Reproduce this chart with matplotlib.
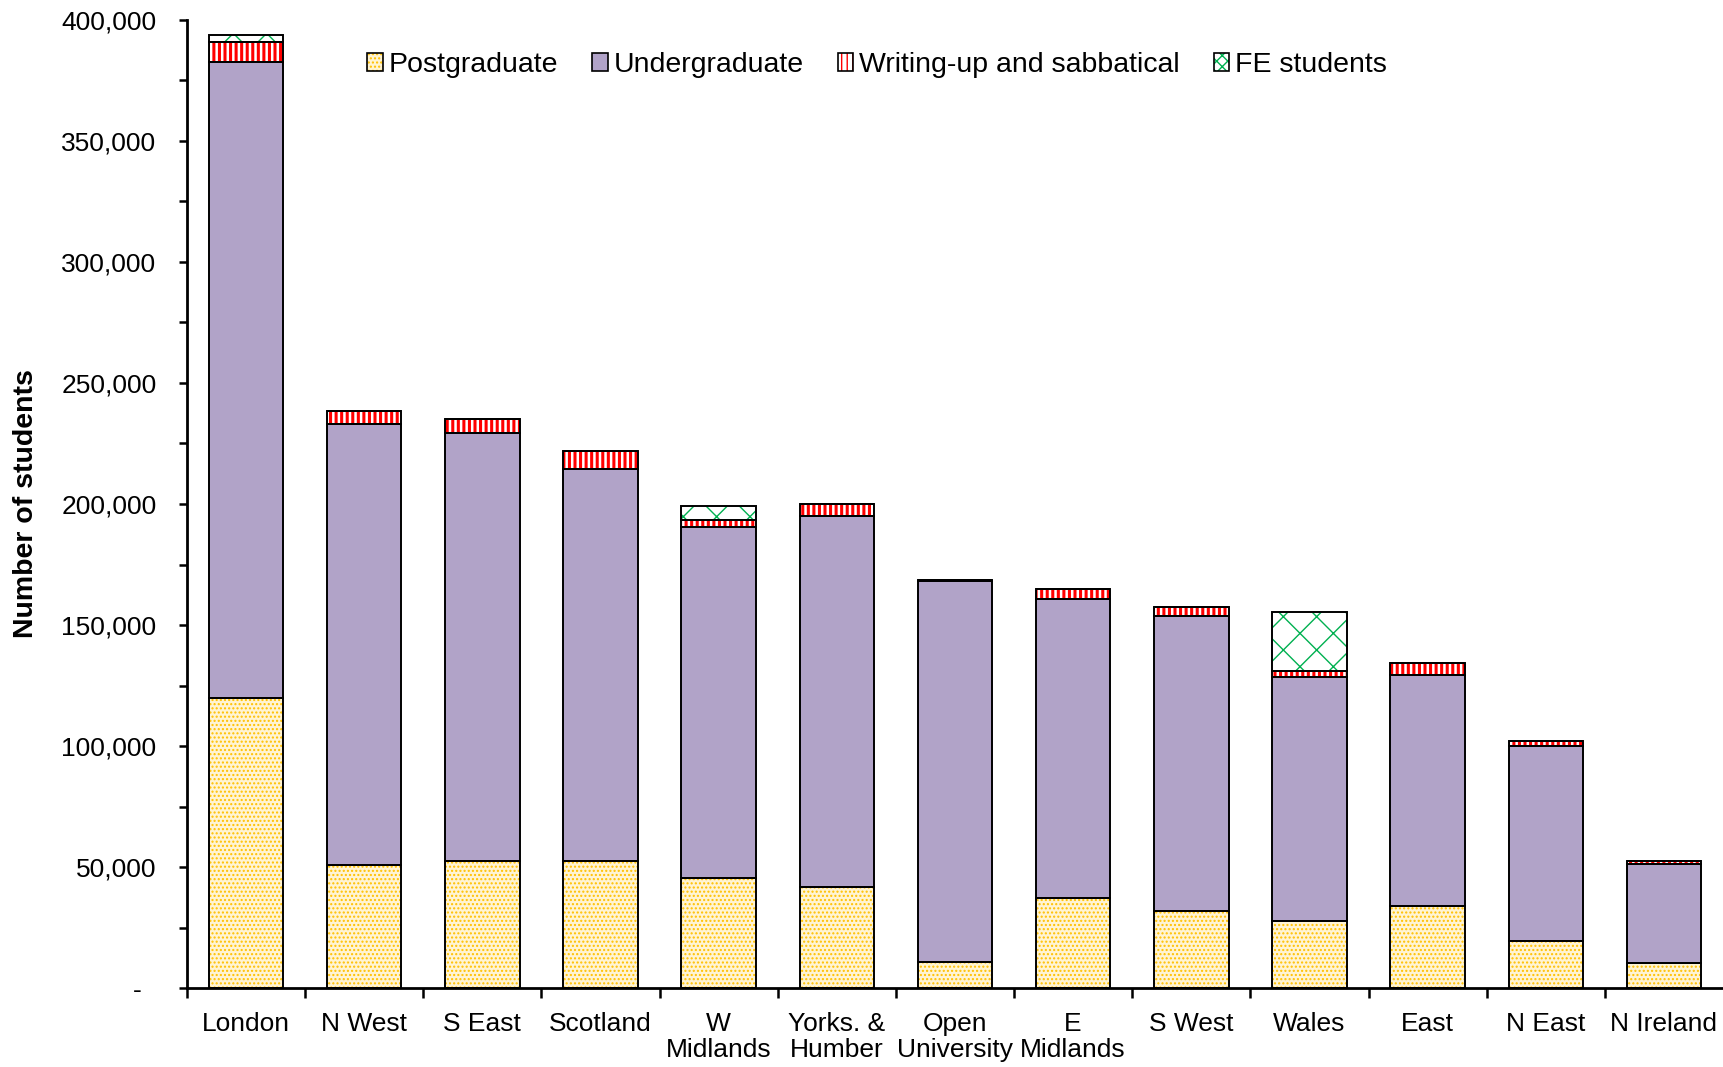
import matplotlib
matplotlib.use("Agg")
import matplotlib.pyplot as plt
from matplotlib.patches import Patch
from matplotlib.ticker import FixedLocator, MultipleLocator, FuncFormatter
import numpy as np

plt.rcParams['font.family'] = ['Liberation Sans', 'DejaVu Sans']

regions = ["London", "N West", "S East", "Scotland", "W\nMidlands", "Yorks. &\nHumber",
           "Open\nUniversity", "E\nMidlands", "S West", "Wales", "East", "N East", "N Ireland"]
postgraduate = [119700, 50900, 52600, 52600, 45300, 41700, 10900, 37200, 31700, 27700, 34000, 19500, 10200]
undergraduate = [262800, 182000, 176900, 161900, 145200, 153500, 157100, 123400, 122100, 100700, 95200, 80500, 41000]
writing_up = [8400, 5500, 5500, 7400, 2900, 4700, 600, 4100, 3800, 2600, 5200, 2200, 1300]
fe_students = [2900, 0, 0, 0, 5900, 0, 0, 0, 0, 24500, 0, 0, 0]

series = [
    ("Postgraduate", postgraduate, dict(face="#FFF4D4", hatch="....", lhatch="....", hcol="#FFC000", hlw=1.0)),
    ("Undergraduate", undergraduate, dict(face="#B1A3C8", hatch=None, lhatch=None, hcol="#B1A3C8", hlw=1.0)),
    ("Writing-up and sabbatical", writing_up, dict(face="white", hatch="|||", lhatch="|||", hcol="#FF0000", hlw=2.2)),
    ("FE students", fe_students, dict(face="white", hatch="x", lhatch="xxx", hcol="#00B050", hlw=1.0)),
]

fig = plt.figure(figsize=(17.23, 10.67), dpi=100)
ax = fig.add_axes([0.1085, 0.074, 1.0 - 0.1085, 0.9813 - 0.074])

x = np.arange(len(regions))
width = 0.63
bottom = np.zeros(len(regions))
handles = []
for name, vals, st in series:
    vals = np.array(vals, dtype=float)
    plt.rcParams['hatch.linewidth'] = st["hlw"]
    bars = ax.bar(x, vals, width, bottom=bottom, color=st["face"], edgecolor=st["hcol"],
                  linewidth=0, hatch=st["hatch"], zorder=2)
    for p in bars:
        if hasattr(p, "set_hatch_linewidth"):
            p.set_hatch_linewidth(st["hlw"])
    ax.bar(x, vals, width, bottom=bottom, fill=False, edgecolor="black", linewidth=1.4, zorder=3)
    h1 = Patch(facecolor=st["face"], edgecolor=st["hcol"], hatch=st["lhatch"], linewidth=0)
    if hasattr(h1, "set_hatch_linewidth"):
        h1.set_hatch_linewidth(st["hlw"])
    h2 = Patch(fill=False, edgecolor="black", linewidth=1.2)
    handles.append(((h1, h2), name))
    bottom += vals

ax.set_xlim(-0.5, 12.5)
ax.set_ylim(0, 400000)

ax.yaxis.set_major_locator(MultipleLocator(50000))
ax.yaxis.set_minor_locator(MultipleLocator(25000))
ax.yaxis.set_major_formatter(FuncFormatter(lambda v, p: "-  " if v == 0 else f"{int(v):,}"))
ax.tick_params(axis="y", which="major", direction="out", length=6, width=1.8, labelsize=19, pad=16)
ax.tick_params(axis="y", which="minor", direction="out", length=6, width=1.8)

ax.set_xticks(x)
ax.set_xticklabels(regions, fontsize=19, linespacing=1.1)
ax.xaxis.set_minor_locator(FixedLocator(np.arange(-0.5, 12.5, 1.0)))
ax.tick_params(axis="x", which="major", length=0, pad=17)
ax.tick_params(axis="x", which="minor", direction="out", length=7, width=1.8)

for s in ["top", "right"]:
    ax.spines[s].set_visible(False)
for s in ["left", "bottom"]:
    ax.spines[s].set_linewidth(2.0)

ax.set_ylabel("Number of students", fontsize=20.5, fontweight="bold")
ax.yaxis.set_label_coords(-0.096, 0.5)

leg = fig.legend([h for h, n in handles], [n for h, n in handles], loc="center",
                 bbox_to_anchor=(0.509, 0.939), ncol=4, frameon=False, fontsize=20.5,
                 handlelength=0.55, handleheight=0.6, handletextpad=0.2, columnspacing=1.2)

fig.savefig("out.png", dpi=100)
